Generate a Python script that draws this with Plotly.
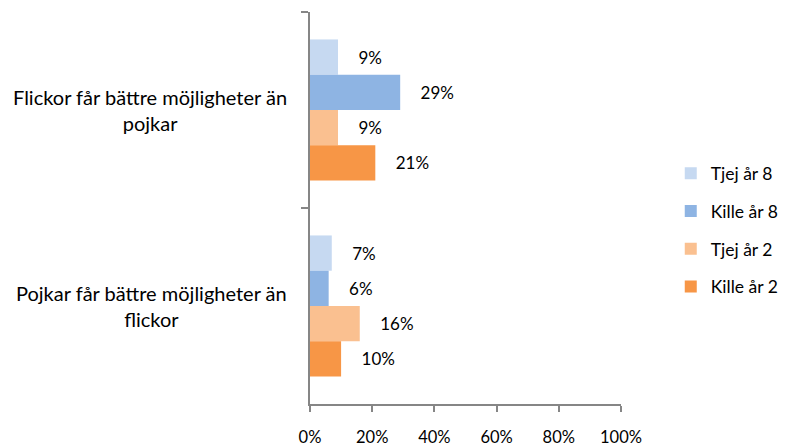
import plotly.graph_objects as go

categories = ["Flickor får bättre möjligheter än<br>pojkar",
              "Pojkar får bättre möjligheter än<br>flickor"]
series_names = ["Tjej år 8", "Kille år 8", "Tjej år 2", "Kille år 2"]
tjej8 = [0.09, 0.07]
kille8 = [0.29, 0.06]
tjej2 = [0.09, 0.16]
kille2 = [0.21, 0.10]
x_ticks = [0, 0.2, 0.4, 0.6, 0.8, 1.0]

values = [tjej8, kille8, tjej2, kille2]
colors = ["#C6D9F1", "#8EB4E3", "#FAC090", "#F79646"]
FONT = "Lato, Calibri, Carlito, sans-serif"

fig = go.Figure()
for name, vals, col in zip(series_names, values, colors):
    fig.add_trace(go.Bar(
        y=categories, x=vals, name=name, orientation="h",
        marker=dict(color=col, line=dict(width=0)),
        text=[f"{v:.0%}" for v in vals], textposition="outside",
        texttemplate="    %{text}",
        textfont=dict(family=FONT, size=17, color="#000000"),
        cliponaxis=False, legendgroup=name,
    ))

for c in categories:
    fig.add_annotation(x=0, xref="paper", y=c, yref="y", text=c,
                       xanchor="right", align="center", showarrow=False,
                       xshift=-21, font=dict(family=FONT, size=20, color="#000000"))

# page body has an 8px default margin, so the figure is sized to fit inside it
fig.update_layout(
    width=781, height=440,
    margin=dict(l=302, r=168, t=4, b=44, autoexpand=False),
    barmode="group", bargap=0.28, bargroupgap=0,
    plot_bgcolor="white", paper_bgcolor="white",
    font=dict(family=FONT, size=16, color="#000000"),
    legend=dict(x=1.16, y=0.444, xanchor="left", yanchor="middle",
                traceorder="grouped", tracegroupgap=12,
                font=dict(family=FONT, size=17.5, color="#000000")),
)
fig.update_xaxes(range=[0, 1], tickvals=x_ticks, tickformat=".0%",
                 showgrid=False, zeroline=False, showline=True,
                 linecolor="#868686", linewidth=1.5, ticks="outside",
                 ticklen=6, tickcolor="#868686", tickwidth=1.5,
                 ticklabelstandoff=11, automargin=False,
                 tickfont=dict(family=FONT, size=16.5, color="#000000"))
fig.update_yaxes(autorange="reversed", showgrid=False, zeroline=False,
                 showline=True, linecolor="#868686", linewidth=1.5,
                 ticks="outside", ticklen=7, tickcolor="#868686", tickwidth=1.5,
                 tickson="boundaries", showticklabels=False, automargin=False)

fig.write_html("out.html")
